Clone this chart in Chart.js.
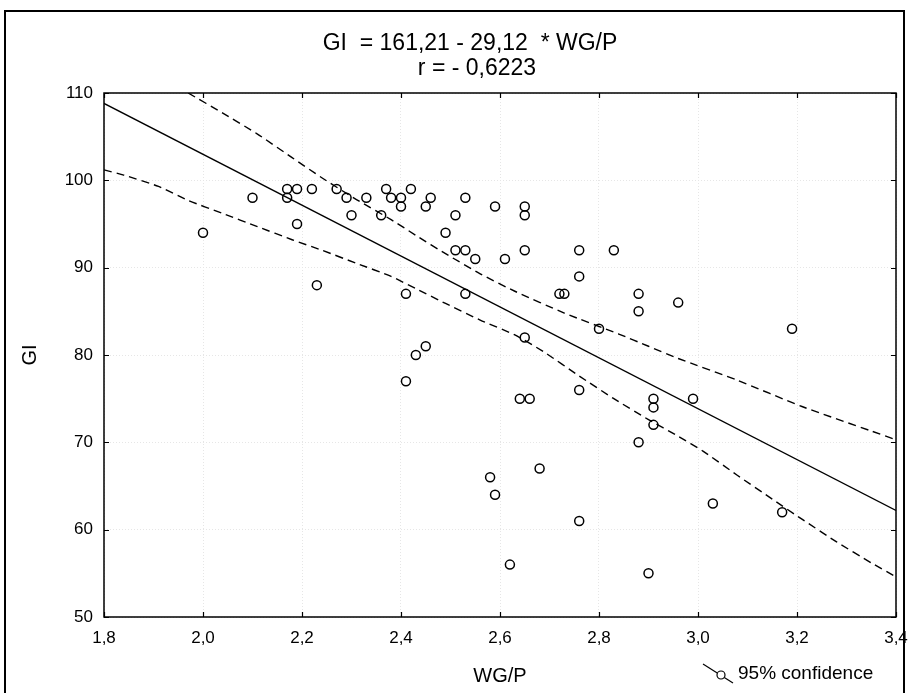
<!DOCTYPE html>
<html>
<head>
<meta charset="utf-8">
<script src="https://cdn.jsdelivr.net/npm/chart.js@4.4.1/dist/chart.umd.min.js"></script>
<style>
  html, body { margin: 0; padding: 0; background: #fff; }
  #wrap { width: 908px; height: 693px; }
</style>
</head>
<body>
<div id="wrap"><canvas id="myChart" width="908" height="693"></canvas></div>
<script>
// values
var wgp = [2.00, 2.10, 2.17, 2.17, 2.19, 2.19, 2.22, 2.23, 2.27, 2.29,
           2.30, 2.33, 2.36, 2.37, 2.38, 2.40, 2.40, 2.42, 2.45, 2.46,
           2.49, 2.51, 2.51, 2.53, 2.53, 2.55, 2.59, 2.61, 2.65, 2.65,
           2.65, 2.76, 2.76, 2.83, 2.41, 2.53, 2.72, 2.73, 2.88, 2.88,
           2.96, 2.80, 2.65, 2.45, 2.43, 2.41, 2.76, 2.64, 2.66, 2.91,
           2.91, 2.91, 2.88, 2.68, 2.58, 2.59, 2.76, 2.62, 2.90, 3.19,
           2.99, 3.03, 3.17];
var gi  = [94, 98, 99, 98, 99, 95, 99, 88, 99, 98,
           96, 98, 96, 99, 98, 98, 97, 99, 97, 98,
           94, 96, 92, 92, 98, 91, 97, 91, 97, 96,
           92, 92, 89, 92, 87, 87, 87, 87, 87, 85,
           86, 83, 82, 81, 80, 77, 76, 75, 75, 75,
           74, 72, 70, 67, 66, 64, 61, 56, 55, 83,
           75, 63, 62];

var fitX = [1.8, 3.4];
var fitY = [108.8, 62.2];

var upperX = [1.97, 2.04, 2.11, 2.18, 2.24, 2.31, 2.38, 2.43, 2.49, 2.56, 2.63, 2.73, 2.84, 2.90, 2.96, 3.08, 3.21, 3.35, 3.40];
var upperY = [110, 107.7, 105.3, 102.6, 100.3, 97.8, 95.5, 93.7, 91.6, 89.3, 87.3, 84.8, 82.4, 81.0, 79.6, 77.1, 74.1, 71.3, 70.3];
var lowerX = [1.80, 1.84, 1.91, 1.97, 2.04, 2.11, 2.18, 2.24, 2.31, 2.38, 2.43, 2.49, 2.56, 2.63, 2.69, 2.76, 2.83, 2.90, 2.96, 3.01, 3.08, 3.15, 3.21, 3.28, 3.35, 3.40];
var lowerY = [101.2, 100.6, 99.3, 97.7, 96.2, 94.7, 93.2, 92.0, 90.5, 89.0, 87.6, 85.9, 84.0, 82.3, 80.3, 77.6, 75.0, 72.6, 70.7, 69.0, 66.2, 63.5, 61.2, 58.6, 56.2, 54.6];

var xTicks = [1.8, 2.0, 2.2, 2.4, 2.6, 2.8, 3.0, 3.2, 3.4];
var yTicks = [50, 60, 70, 80, 90, 100, 110];

var titleLines = ['GI  = 161,21 - 29,12  * WG/P', 'r = - 0,6223'];
var legendText = '95% confidence';

function pairs(xs, ys) {
  return xs.map(function (x, i) { return { x: x, y: ys[i] }; });
}
function comma(v) { return v.toFixed(1).replace('.', ','); }

var FONT = "'Liberation Sans', Arial, sans-serif";

// title, frame, inner ticks, outer border and legend
var framePlugin = {
  id: 'frame',
  afterDatasetsDraw: function (chart) {
    var ctx = chart.ctx, a = chart.chartArea;
    var xs = chart.scales.x, ys = chart.scales.y;
    ctx.save();
    ctx.strokeStyle = '#000';
    ctx.lineWidth = 1.5;
    ctx.strokeRect(a.left, a.top, a.right - a.left, a.bottom - a.top);
    ctx.lineWidth = 1.2;
    ctx.beginPath();
    xTicks.forEach(function (v) {
      var px = Math.round(xs.getPixelForValue(v)) + 0.5;
      ctx.moveTo(px, a.bottom); ctx.lineTo(px, a.bottom - 5);
      ctx.moveTo(px, a.top); ctx.lineTo(px, a.top + 5);
    });
    yTicks.forEach(function (v) {
      var py = Math.round(ys.getPixelForValue(v)) + 0.5;
      ctx.moveTo(a.left, py); ctx.lineTo(a.left + 5, py);
      ctx.moveTo(a.right, py); ctx.lineTo(a.right - 5, py);
    });
    ctx.stroke();

    // page frame
    ctx.lineWidth = 2;
    ctx.strokeRect(5, 11, 899, 700);

    // title
    ctx.fillStyle = '#000';
    ctx.font = '23px ' + FONT;
    ctx.textAlign = 'center';
    ctx.textBaseline = 'alphabetic';
    ctx.fillText(titleLines[0], 470, 49.5);
    ctx.fillText(titleLines[1], 477, 74.5);

    // legend
    ctx.lineWidth = 1.2;
    ctx.beginPath();
    ctx.moveTo(703, 664); ctx.lineTo(733, 683);
    ctx.stroke();
    ctx.beginPath();
    ctx.arc(721, 675, 4, 0, Math.PI * 2);
    ctx.fillStyle = '#fff';
    ctx.fill();
    ctx.stroke();
    ctx.fillStyle = '#000';
    ctx.font = '19px ' + FONT;
    ctx.textBaseline = 'middle';
    ctx.textAlign = 'left';
    ctx.fillText(legendText, 738, 674);
    ctx.restore();
  }
};

var ctx = document.getElementById('myChart');
var myChart = new Chart(ctx, {
  type: 'scatter',
  data: {
    datasets: [{
      label: 'GI',
      data: pairs(wgp, gi),
      pointStyle: 'circle',
      pointRadius: 4.5,
      pointBorderWidth: 1.5,
      borderColor: '#000',
      backgroundColor: 'rgba(0,0,0,0)',
      showLine: false
    }, {
      label: 'fit',
      data: pairs(fitX, fitY),
      showLine: true,
      borderColor: '#000',
      borderWidth: 1.4,
      pointRadius: 0
    }, {
      label: legendText,
      data: pairs(upperX, upperY),
      showLine: true,
      borderColor: '#000',
      borderWidth: 1.4,
      borderDash: [8, 5],
      tension: 0.2,
      pointRadius: 0
    }, {
      label: 'lower',
      data: pairs(lowerX, lowerY),
      showLine: true,
      borderColor: '#000',
      borderWidth: 1.4,
      borderDash: [8, 5],
      tension: 0.2,
      pointRadius: 0
    }]
  },
  options: {
    responsive: false,
    animation: false,
    layout: { padding: { left: 0, right: 0, top: 93, bottom: 0 } },
    plugins: {
      legend: { display: false },
      tooltip: { enabled: false },
      title: { display: false }
    },
    scales: {
      x: {
        type: 'linear',
        min: 1.8,
        max: 3.4,
        afterBuildTicks: function (s) { s.ticks = xTicks.map(function (v) { return { value: v }; }); },
        afterFit: function (s) { s.height = 76; s.paddingLeft = 0; s.paddingRight = 12; },
        ticks: {
          color: '#000',
          padding: 11,
          maxRotation: 0,
          font: { family: FONT, size: 17 },
          callback: function (v) { return comma(v); }
        },
        grid: { color: '#e6e6e6', lineWidth: 1, drawTicks: false },
        border: { display: false, dash: [1, 2] },
        title: {
          display: true,
          text: 'WG/P',
          color: '#000',
          font: { family: FONT, size: 20 },
          padding: { top: 0, bottom: 5 }
        }
      },
      y: {
        type: 'linear',
        min: 50,
        max: 110,
        afterBuildTicks: function (s) { s.ticks = yTicks.map(function (v) { return { value: v }; }); },
        afterFit: function (s) { s.width = 104; },
        ticks: {
          color: '#000',
          padding: 11,
          font: { family: FONT, size: 17 }
        },
        grid: { color: '#e6e6e6', lineWidth: 1, drawTicks: false },
        border: { display: false, dash: [1, 2] },
        title: {
          display: true,
          text: 'GI',
          color: '#000',
          font: { family: FONT, size: 20 },
          padding: { top: 18, bottom: 0 }
        }
      }
    }
  },
  plugins: [framePlugin]
});
</script>
</body>
</html>
